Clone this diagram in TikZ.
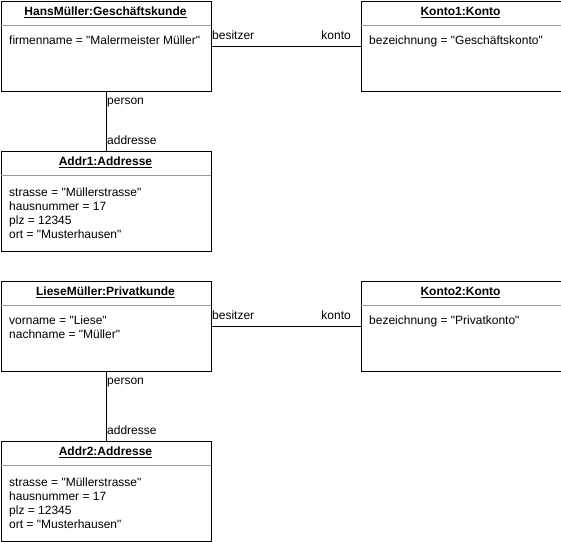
\documentclass[tikz,border=0pt]{standalone}
\usepackage{fontspec}
\setmainfont{Liberation Sans}[Ligatures=TeXOff]
\tikzset{
  umlbox/.style={draw=black, line width=1pt, anchor=north west, inner sep=0pt, minimum width=210pt, minimum height=90pt},
  divline/.style={draw=black!40, line width=1pt},
  conn/.style={draw=black, line width=1pt},
  txt/.style={anchor=base west, inner sep=0pt, font=\fontsize{12}{14}\selectfont},
  ttl/.style={anchor=base, inner sep=0pt, font=\fontsize{12}{14}\selectfont\bfseries},
}
\begin{document}
\begin{tikzpicture}[x=1pt,y=-1pt]
\useasboundingbox (0,0) rectangle (561,541);
% top group
\node[umlbox] (hans) at (0.5,0.5) {};
\node[umlbox, minimum width=200pt] (konto1) at (360.5,0.5) {};
\node[umlbox, minimum height=100pt] (addr1) at (0.5,150.5) {};
\draw[divline] (0.5,25.5) -- (210.5,25.5);
\draw[divline] (360.5,25.5) -- (560.5,25.5);
\draw[divline] (0.5,175.5) -- (210.5,175.5);
\node[ttl] (t1) at (105.5,15.5) {\underline{HansMüller:Geschäftskunde}};
\node[ttl] (t2) at (460.5,15.5) {\underline{Konto1:Konto}};
\node[ttl] (t3) at (105.5,165.5) {\underline{Addr1:Addresse}};
\node[txt] (a1) at (9,44) {firmenname = "Malermeister Müller"};
\node[txt] (a2) at (369,44) {bezeichnung = "Geschäftskonto"};
\node[txt] (a3) at (9,196) {strasse = "Müllerstrasse"};
\node[txt] (a4) at (9,210) {hausnummer = 17};
\node[txt] (a5) at (9,224) {plz = 12345};
\node[txt] (a6) at (9,238) {ort = "Musterhausen"};
\draw[conn] (hans) -- (konto1);
\draw[conn] (hans) -- (addr1);
\node[txt] (l1) at (212,39) {besitzer};
\node[txt, anchor=base east] (l2) at (351,39) {konto};
\node[txt] (l3) at (107,104.5) {person};
\node[txt] (l4) at (107,144) {addresse};
% bottom group
\node[umlbox] (liese) at (0.5,280.5) {};
\node[umlbox, minimum width=200pt] (konto2) at (360.5,280.5) {};
\node[umlbox, minimum height=100pt] (addr2) at (0.5,440.5) {};
\draw[divline] (0.5,305.5) -- (210.5,305.5);
\draw[divline] (360.5,305.5) -- (560.5,305.5);
\draw[divline] (0.5,465.5) -- (210.5,465.5);
\node[ttl] (t4) at (105.5,295.5) {\underline{LieseMüller:Privatkunde}};
\node[ttl] (t5) at (460.5,295.5) {\underline{Konto2:Konto}};
\node[ttl] (t6) at (105.5,455.5) {\underline{Addr2:Addresse}};
\node[txt] (b1) at (9,324) {vorname = "Liese"};
\node[txt] (b2) at (9,338) {nachname = "Müller"};
\node[txt] (b3) at (369,324) {bezeichnung = "Privatkonto"};
\node[txt] (b4) at (9,486) {strasse = "Müllerstrasse"};
\node[txt] (b5) at (9,500) {hausnummer = 17};
\node[txt] (b6) at (9,514) {plz = 12345};
\node[txt] (b7) at (9,528) {ort = "Musterhausen"};
\draw[conn] (liese) -- (konto2);
\draw[conn] (liese) -- (addr2);
\node[txt] (m1) at (212,319) {besitzer};
\node[txt, anchor=base east] (m2) at (351,319) {konto};
\node[txt] (m3) at (107,384.5) {person};
\node[txt] (m4) at (107,434) {addresse};
\end{tikzpicture}
\end{document}
